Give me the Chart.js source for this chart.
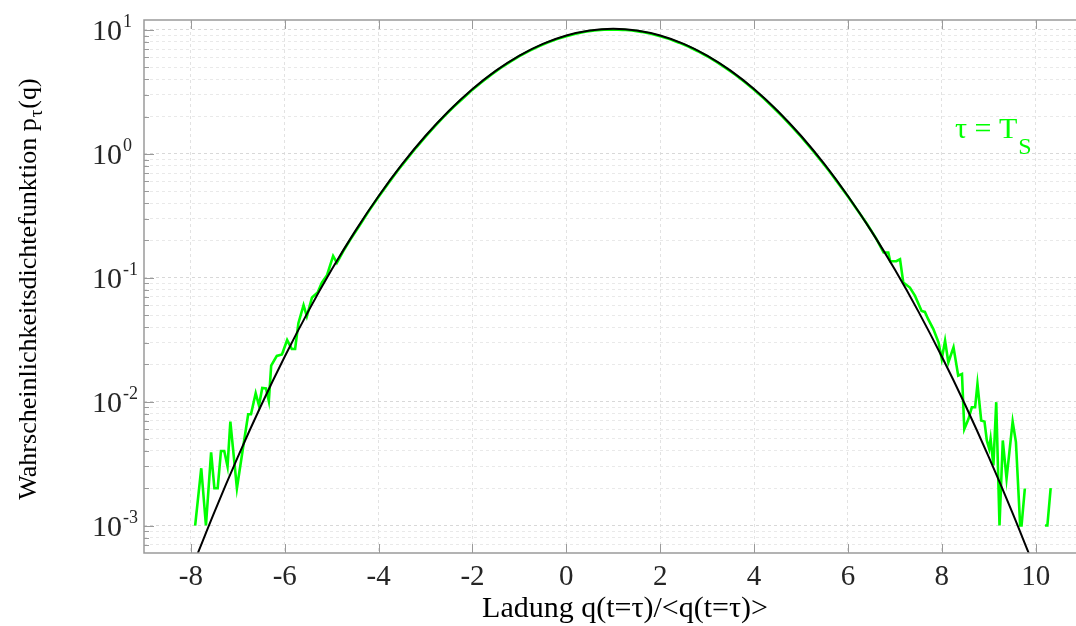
<!DOCTYPE html>
<html>
<head>
<meta charset="utf-8">
<script src="https://cdn.jsdelivr.net/npm/chart.js@4.4.0/dist/chart.umd.min.js"></script>
<style>
html, body { margin: 0; padding: 0; background: #fff; overflow: hidden; }
#wrap { width: 1076px; height: 626px; }
</style>
</head>
<body>
<div id="wrap"><canvas id="pdfChart" width="1076" height="626"></canvas></div>
<script>
const qMeasured = [
  -7.91, -7.78, -7.68, -7.57, -7.50, -7.43, -7.36, -7.29, -7.22, -7.16, -7.02, -6.90, -6.78, -6.72,
  -6.62, -6.55, -6.48, -6.40, -6.34, -6.29, -6.17, -6.06, -5.95, -5.85, -5.78, -5.71, -5.60, -5.53,
  -5.42, -5.30, -5.21, -5.10, -4.97, -4.89, -4.75,
  -4.6, -4.4, -4.2, -4.0, -3.8, -3.6, -3.4, -3.2, -3.0, -2.8, -2.6, -2.4, -2.2, -2.0, -1.8, -1.6,
  -1.4, -1.2, -1.0, -0.8, -0.6, -0.4, -0.2, 0.0, 0.2, 0.4, 0.6, 0.8, 1.0, 1.2, 1.4, 1.6, 1.8, 2.0,
  2.2, 2.4, 2.6, 2.8, 3.0, 3.2, 3.4, 3.6, 3.8, 4.0, 4.2, 4.4, 4.6, 4.8, 5.0, 5.2, 5.4, 5.6, 5.8,
  6.0, 6.2, 6.4, 6.6,
  6.76, 6.86, 6.90, 7.03, 7.11, 7.18, 7.32, 7.43, 7.57, 7.64, 7.71, 7.82, 7.93, 8.00, 8.07, 8.14,
  8.25, 8.35, 8.43, 8.48, 8.57, 8.64, 8.71, 8.76, 8.84, 8.91, 8.96, 9.01, 9.04, 9.10, 9.16, 9.23,
  9.30, 9.38, 9.51, 9.58, 9.67, 9.70, 9.77, 10.0, 10.20, 10.25, 10.32
];
const pMeasured = [
  0.0010, 0.0029, 0.0010, 0.0039, 0.0020, 0.0020, 0.0040, 0.0040, 0.0030, 0.0069, 0.0020, 0.0040, 0.0079, 0.0079,
  0.0117, 0.0093, 0.0129, 0.0128, 0.0101, 0.0195, 0.0234, 0.0240, 0.0314, 0.0266, 0.0266, 0.0430, 0.0600, 0.0488,
  0.0693, 0.0760, 0.0914, 0.1050, 0.1500, 0.1320, 0.1650,
  0.204, 0.266, 0.350, 0.450, 0.574, 0.728, 0.905, 1.125, 1.380, 1.672, 2.015, 2.400, 2.815, 3.300, 3.800, 4.360,
  4.930, 5.530, 6.140, 6.760, 7.340, 7.920, 8.440, 8.920, 9.330, 9.680, 9.900, 10.05, 10.10, 10.03, 9.910, 9.660, 9.320, 8.910,
  8.440, 7.900, 7.350, 6.740, 6.140, 5.520, 4.920, 4.350, 3.800, 3.290, 2.820, 2.390, 2.010, 1.670, 1.380, 1.120, 0.905, 0.728, 0.574,
  0.452, 0.352, 0.274, 0.208,
  0.160, 0.160, 0.136, 0.136, 0.141, 0.0914, 0.0834, 0.0714, 0.0540, 0.0530, 0.0463, 0.0385, 0.0301, 0.0221, 0.0310, 0.0207,
  0.0274, 0.0162, 0.0167, 0.0060, 0.00726, 0.0090, 0.0090, 0.0139, 0.00705, 0.0069, 0.00486, 0.00417, 0.00501, 0.00306, 0.0099, 0.0010,
  0.00486, 0.00239, 0.0069, 0.00471, 0.0010, 0.0010, 0.00199, null, 0.0010, 0.0010, 0.0020
];

// angepasste Kurve (schwarz)
const qFit = [-8, -7.5, -7, -6.5, -6, -5.5, -5, -4.5, -4, -3.5, -3, -2.5, -2, -1.5, -1, -0.5, 0, 0.5, 1,
  1.5, 2, 2.5, 3, 3.5, 4, 4.5, 5, 5.5, 6, 6.5, 7, 7.5, 8, 8.5, 9, 9.5, 10];
const pFit = [0.000433, 0.001284, 0.00358, 0.00939, 0.02312, 0.05353, 0.1164, 0.2379, 0.4571, 0.8252, 1.400,
  2.231, 3.342, 4.704, 6.223, 7.735, 9.036, 9.920, 10.23, 9.920, 9.036, 7.735, 6.223, 4.704, 3.342, 2.231,
  1.400, 0.8252, 0.4571, 0.2379, 0.1164, 0.05353, 0.02312, 0.00939, 0.00358, 0.001284, 0.000433];

// Achsen
const xTickValues = [-8, -6, -4, -2, 0, 2, 4, 6, 8, 10];
const yDecades = [0.001, 0.01, 0.1, 1, 10];
const yExponents = ['-3', '-2', '-1', '0', '1'];
const yMinorSteps = [2, 3, 4, 5, 6, 7, 8, 9];
const yMinorBelow = [0.0007, 0.0008, 0.0009];

const xLabel = 'Ladung q(t=\u03c4)/<q(t=\u03c4)>';
const yLabel = 'Wahrscheinlichkeitsdichtefunktion p';
const serif = "'Liberation Serif', 'Times New Roman', serif";

const yTickValues = yMinorBelow.slice();
yDecades.forEach(function (d, i) {
    yTickValues.push(d);
    if (i < yDecades.length - 1) yMinorSteps.forEach(function (s) { yTickValues.push(d * s); });
});
const isDecade = v => yDecades.some(d => Math.abs(v - d) / d < 1e-6);

const messPunkte = qMeasured.map((q, i) => ({ x: q, y: pMeasured[i] }));
const fitPunkte = qFit.map((q, i) => ({ x: q, y: pFit[i] }));

const matlabAxes = {
    id: 'matlabAxes',
    afterDraw(chart) {
        const { ctx, chartArea: a, scales: { x, y } } = chart;
        ctx.save();
        // Rahmen
        ctx.strokeStyle = '#9a9a9a';
        ctx.lineWidth = 1.5;
        ctx.beginPath();
        ctx.moveTo(a.right, a.top);
        ctx.lineTo(a.left, a.top);
        ctx.lineTo(a.left, a.bottom);
        ctx.lineTo(a.right, a.bottom);
        ctx.stroke();
        // Ticks nach innen
        ctx.lineWidth = 1;
        ctx.beginPath();
        xTickValues.forEach(function (v) {
            const px = Math.round(x.getPixelForValue(v)) + 0.5;
            ctx.moveTo(px, a.bottom); ctx.lineTo(px, a.bottom - 9);
            ctx.moveTo(px, a.top); ctx.lineTo(px, a.top + 9);
        });
        yTickValues.forEach(function (v) {
            const py = Math.round(y.getPixelForValue(v)) + 0.5;
            ctx.moveTo(a.left, py); ctx.lineTo(a.left + (isDecade(v) ? 10 : 5), py);
        });
        ctx.stroke();

        // y-Beschriftung 10^n
        ctx.fillStyle = '#262626';
        ctx.textBaseline = 'alphabetic';
        yDecades.forEach(function (d, i) {
            const py = y.getPixelForValue(d);
            ctx.font = '30px ' + serif;
            ctx.textAlign = 'right';
            ctx.fillText('10', 122, py + 10);
            ctx.font = '18px ' + serif;
            ctx.textAlign = 'left';
            ctx.fillText(yExponents[i], 123, py - 3);
        });

        // y-Achsentitel mit Index
        ctx.save();
        ctx.translate(36, 290);
        ctx.rotate(-Math.PI / 2);
        ctx.fillStyle = '#000';
        const mainFont = '26px ' + serif;
        const subFont = '19px ' + serif;
        ctx.font = mainFont;
        const w1 = ctx.measureText(yLabel).width;
        const w3 = ctx.measureText('(q)').width;
        ctx.font = subFont;
        const w2 = ctx.measureText('\u03c4').width;
        let sx = -(w1 + w2 + w3) / 2;
        ctx.textAlign = 'left';
        ctx.font = mainFont;
        ctx.fillText(yLabel, sx, 0);
        ctx.font = subFont;
        ctx.fillText('\u03c4', sx + w1 + 1, 6);
        ctx.font = mainFont;
        ctx.fillText('(q)', sx + w1 + w2 + 2, 0);
        ctx.restore();

        // x-Achsentitel
        ctx.fillStyle = '#000';
        ctx.font = '30px ' + serif;
        ctx.textAlign = 'center';
        ctx.fillText(xLabel, 625, 617);

        // Legende im Plot
        ctx.fillStyle = '#00ff00';
        ctx.textAlign = 'left';
        ctx.font = '30px ' + serif;
        ctx.fillText('\u03c4 = T', 955, 138);
        const tw = ctx.measureText('\u03c4 = T').width;
        ctx.font = '24px ' + serif;
        ctx.fillText('S', 955 + tw + 1, 154);
        ctx.restore();
    }
};

const ctx = document.getElementById('pdfChart').getContext('2d');
new Chart(ctx, {
    type: 'line',
    data: {
        datasets: [
            {
                label: 'Messung',
                data: messPunkte,
                borderColor: '#00ff00',
                borderWidth: 2.6,
                pointRadius: 0,
                tension: 0,
                spanGaps: false,
                order: 2
            },
            {
                label: 'Fit',
                data: fitPunkte,
                borderColor: '#000000',
                borderWidth: 2,
                pointRadius: 0,
                cubicInterpolationMode: 'monotone',
                order: 1
            }
        ]
    },
    options: {
        responsive: false,
        animation: false,
        layout: {
            padding: { top: 20, right: 0, bottom: 0, left: 0 }
        },
        plugins: {
            legend: { display: false },
            tooltip: { enabled: false }
        },
        scales: {
            x: {
                type: 'linear',
                min: -9,
                max: 10.86,
                afterBuildTicks: function (scale) {
                    scale.ticks = xTickValues.map(v => ({ value: v }));
                },
                afterFit: function (scale) { scale.height = 73; },
                grid: { color: '#e2e2e2', lineWidth: 1, drawTicks: false },
                border: { display: false, dash: [3, 3] },
                ticks: {
                    color: '#262626',
                    padding: 7,
                    font: { family: serif, size: 29 },
                    callback: v => String(v)
                }
            },
            y: {
                type: 'logarithmic',
                min: 0.000614,
                max: 12.04,
                afterBuildTicks: function (scale) {
                    scale.ticks = yTickValues.map(v => ({ value: v, major: isDecade(v) }));
                },
                afterFit: function (scale) { scale.width = 144; },
                grid: {
                    color: c => (c.tick && isDecade(c.tick.value)) ? '#d8d8d8' : '#e9e9e9',
                    lineWidth: 1,
                    drawTicks: false
                },
                border: { display: false, dash: [3, 3] },
                ticks: { display: false }
            }
        }
    },
    plugins: [matlabAxes]
});
</script>
</body>
</html>
